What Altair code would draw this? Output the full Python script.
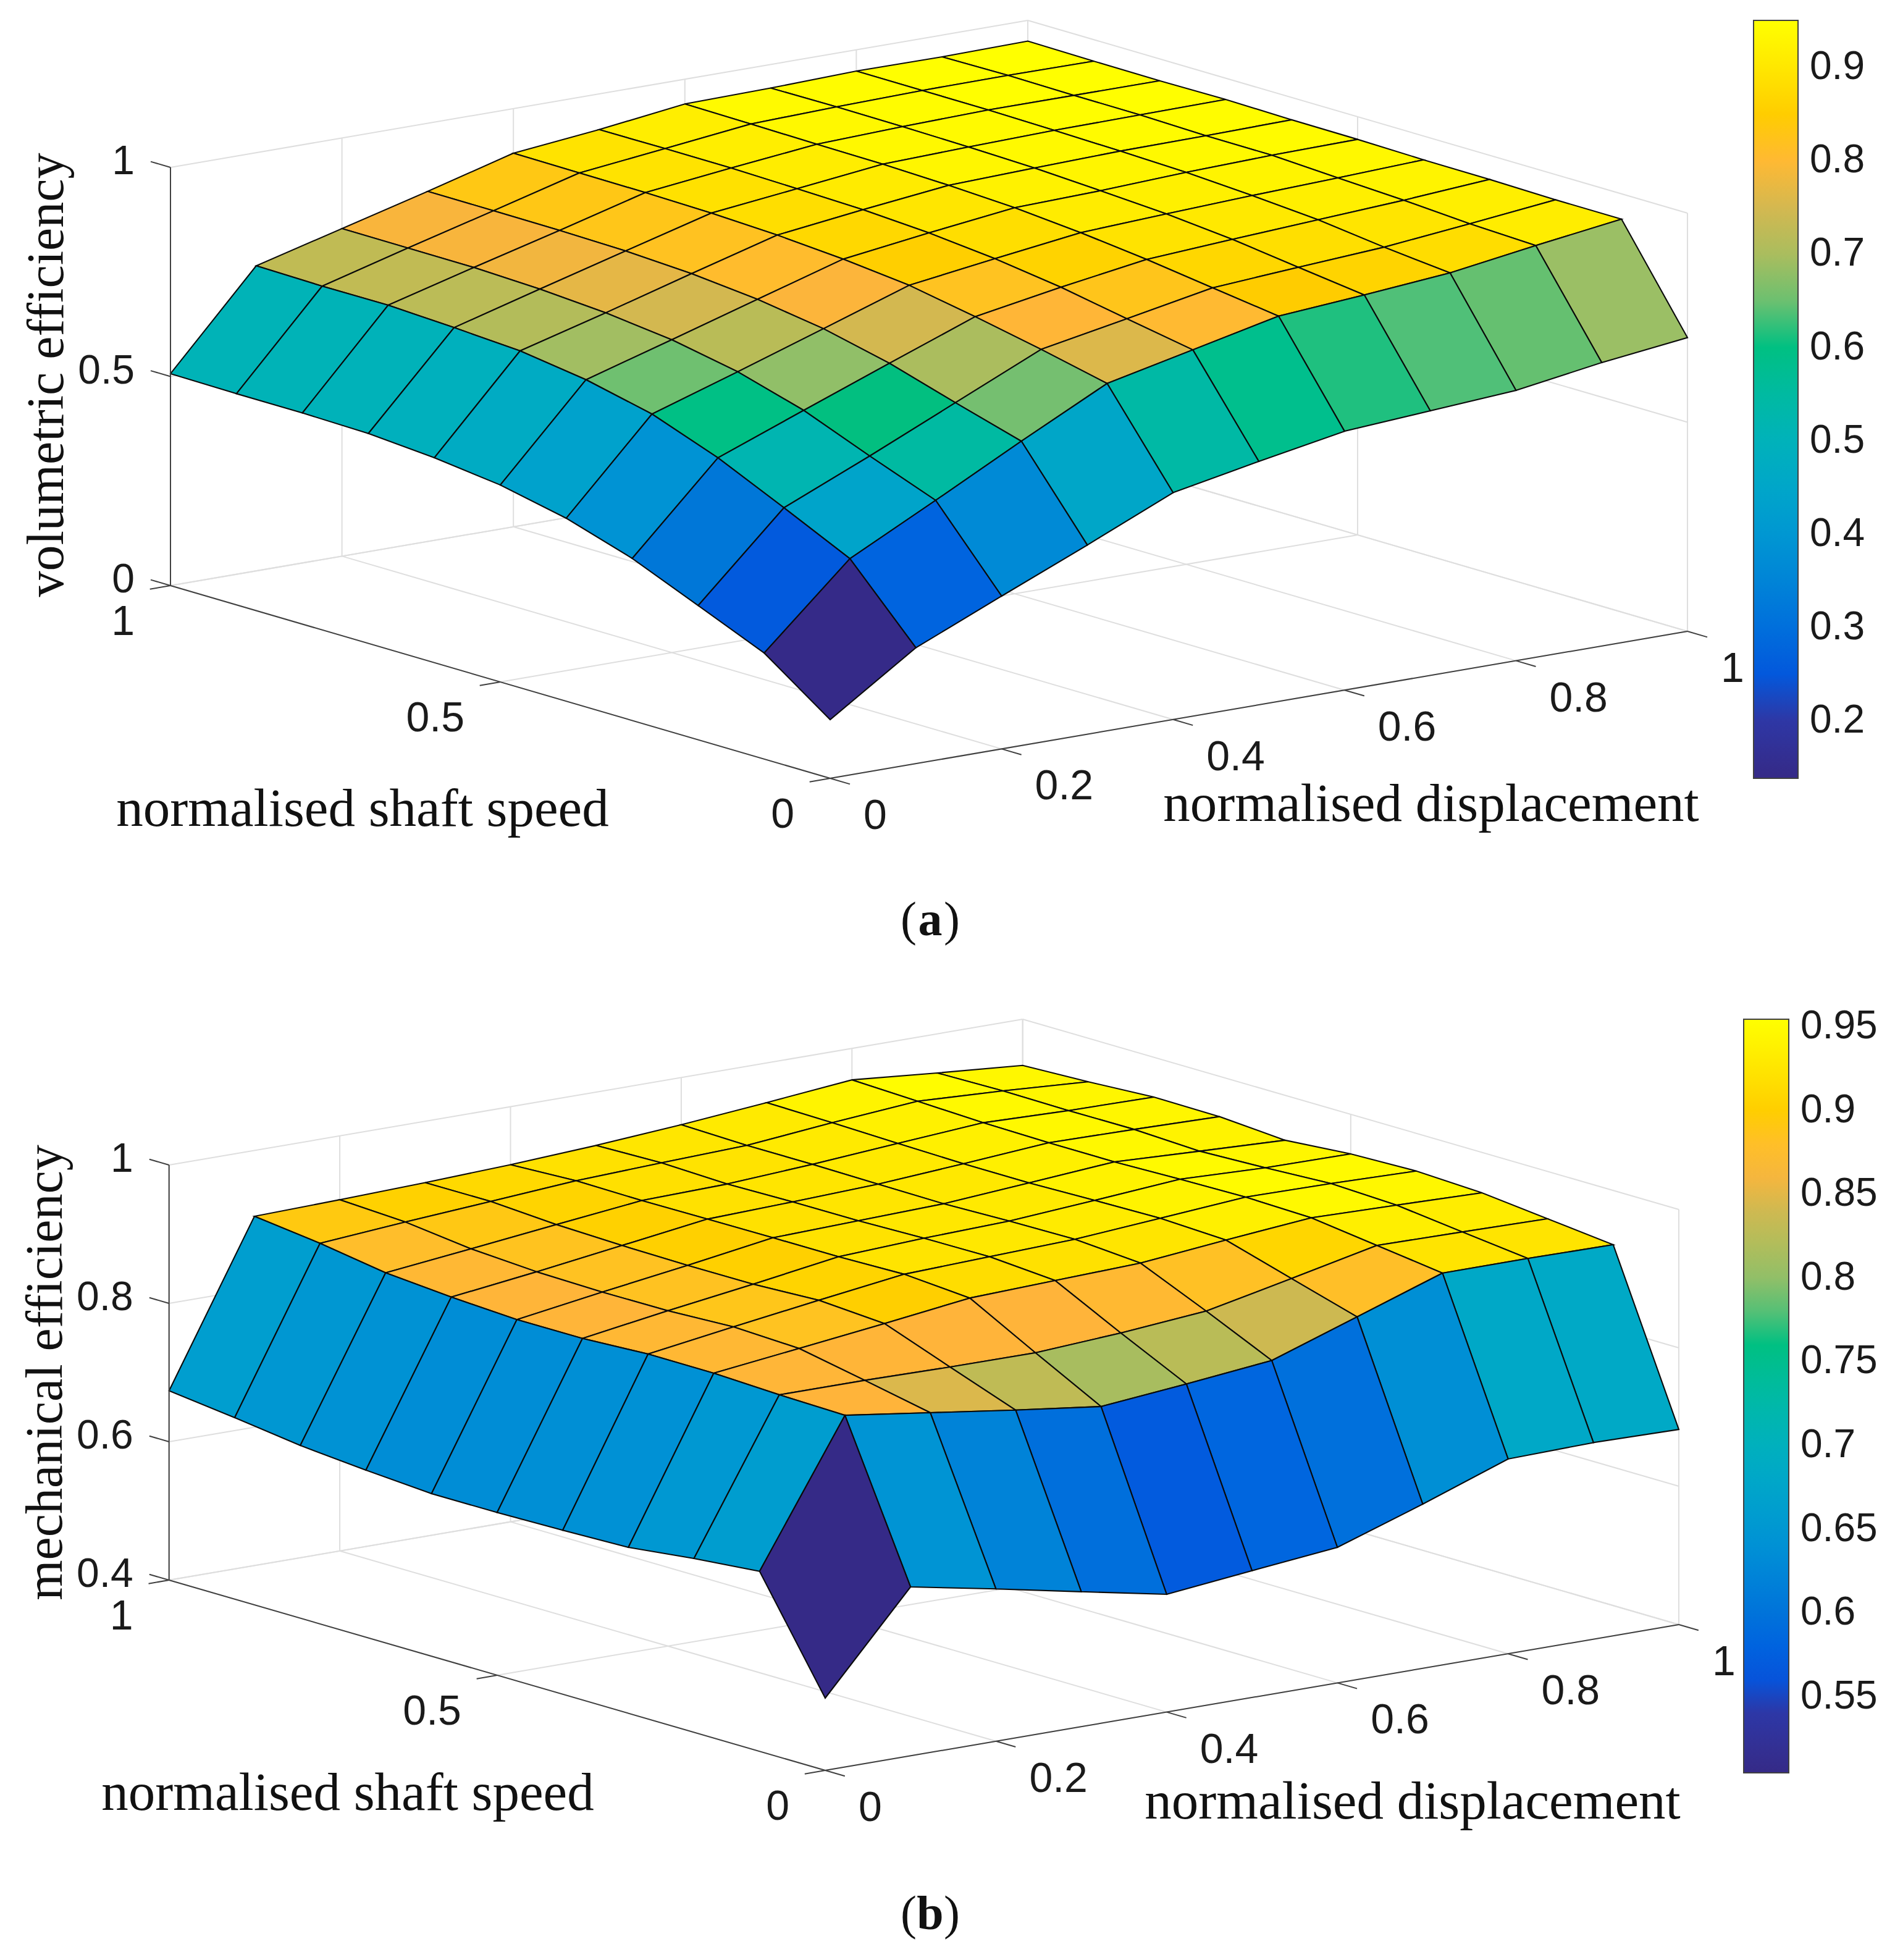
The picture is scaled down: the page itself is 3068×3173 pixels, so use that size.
import altair as alt
import pandas as pd

# surface heights; row = shaft speed index (0..1 in 0.1 steps), column = displacement index
Z_A = [
 [.1403,.277,.3654,.4524,.5425,.582,.619,.6328,.6463,.6777,.7022],
 [.2536,.444,.5483,.6546,.7575,.8027,.8482,.8636,.8812,.9116,.9394],
 [.321,.5197,.6082,.7005,.7929,.831,.8698,.8838,.8967,.9174,.9397],
 [.3876,.593,.6714,.7488,.825,.8603,.8916,.9045,.9161,.9277,.9423],
 [.4376,.6516,.7175,.7853,.854,.8825,.9095,.9193,.928,.935,.9431],
 [.471,.6876,.748,.8095,.8706,.8981,.923,.9286,.9374,.9431,.9459],
 [.49,.7105,.7663,.8248,.8819,.9075,.9306,.9369,.9421,.9437,.9466],
 [.502,.72,.777,.833,.8884,.9115,.935,.941,.9456,.9474,.9492],
 [.505,.7275,.7826,.836,.8913,.9149,.9366,.9436,.9483,.948,.9478],
 [.505,.727,.7829,.837,.8922,.9153,.939,.9448,.9488,.9498,.9486],
 [.5067,.7295,.7834,.8372,.8934,.9146,.9408,.9436,.9492,.948,.9505],
]
Z_B = [
 [.5045,.6441,.6201,.595,.5702,.5833,.5959,.6373,.6815,.6841,.6821],
 [.6602,.8647,.8473,.83,.8141,.8256,.8385,.8805,.9227,.9228,.9216],
 [.6513,.8668,.8666,.8648,.8643,.8718,.8824,.9084,.9352,.9336,.9316],
 [.6398,.8705,.8852,.9001,.9159,.9201,.9243,.9365,.9476,.9448,.9416],
 [.6371,.8707,.8889,.9063,.9228,.9271,.9312,.9405,.95,.9486,.9456],
 [.6352,.8657,.8847,.902,.9206,.9263,.93,.9389,.9484,.9438,.9429],
 [.635,.8654,.8841,.9017,.9205,.924,.9275,.9366,.9459,.9403,.9351],
 [.6414,.8705,.886,.9029,.92,.9238,.9284,.9368,.9461,.9443,.9417],
 [.6496,.8781,.8917,.9057,.9193,.9221,.9295,.9387,.9475,.944,.9425],
 [.6623,.8932,.9029,.9116,.9205,.9253,.9294,.9411,.9511,.945,.9371],
 [.6736,.9048,.9077,.9113,.9162,.9229,.9318,.9427,.9545,.9434,.9332],
]
S_TICKS = [0, 0.5, 1]
D_TICKS = [0, 0.2, 0.4, 0.6, 0.8, 1]
Z_TICKS_A = [0, 0.5, 1]
Z_TICKS_B = [0.4, 0.6, 0.8, 1]
CB_TICKS_A = [0.2, 0.3, 0.4, 0.5, 0.6, 0.7, 0.8, 0.9]
CB_TICKS_B = [0.55, 0.6, 0.65, 0.7, 0.75, 0.8, 0.85, 0.9, 0.95]

CMAP_T = [0, .094, .114, .16, .227, .325, .424, .49, .563, .578, .592, .609, .626, .64, .664, .688,
          .754, .8, .873, .94, 1]
CMAP_C = ['#352a87', '#2a3aac', '#0a50d8', '#0060e0', '#0078d8', '#0098d2', '#00aec0', '#00b8a8',
          '#00c083', '#00bf80', '#1fc07f', '#50c078', '#66c070', '#7bbf70', '#9bbf65', '#a8bd5f',
          '#d5b850', '#ffb43a', '#ffcc00', '#ffe800', '#ffff00']

PROJ = dict(type='identity', scale=1, translate=[-8, -8])
SANS = 'Liberation Sans'
SERIF = 'Liberation Serif'
LABEL_CB = 64
LABEL_Z = 66
LABEL_XY = 68
TITLE = 87
YTITLE = 84
CAPTION = 78


def line(a, b):
    return {'type': 'Feature', 'properties': {},
            'geometry': {'type': 'LineString', 'coordinates': [list(a), list(b)]}}


def panel(Z, zticks, zmin, zunit, O, ex, ey, cb_ticks, cb_box, cb_dom, titles, ylabel, cap):
    def P(s, d, z):
        return (O[0] + ex[0] * s + ey[0] * d, O[1] + ex[1] * s + ey[1] * d - (z - zmin) * zunit)
    ztop = 1
    grid = []
    for d in D_TICKS:
        grid.append(line(P(0, d, zmin), P(1, d, zmin)))
        grid.append(line(P(1, d, zmin), P(1, d, ztop)))
    for s in S_TICKS:
        grid.append(line(P(s, 0, zmin), P(s, 1, zmin)))
        grid.append(line(P(s, 1, zmin), P(s, 1, ztop)))
    for z in zticks:
        grid.append(line(P(1, 0, z), P(1, 1, z)))
        grid.append(line(P(0, 1, z), P(1, 1, z)))
    axes = [line(P(0, 0, zmin), P(1, 0, zmin)), line(P(0, 0, zmin), P(0, 1, zmin)),
            line(P(1, 0, zmin), P(1, 0, ztop))]
    for s in S_TICKS:
        axes.append(line(P(s, 0, zmin), P(s, -0.024, zmin)))
    for d in D_TICKS:
        axes.append(line(P(0, d, zmin), P(-0.03, d, zmin)))
    for z in zticks:
        axes.append(line(P(1, 0, z), P(1.03, 0, z)))

    faces = []
    for i in range(10):
        for j in range(10):
            ring = [P(i / 10, j / 10, Z[i][j]), P((i + 1) / 10, j / 10, Z[i + 1][j]),
                    P((i + 1) / 10, (j + 1) / 10, Z[i + 1][j + 1]), P(i / 10, (j + 1) / 10, Z[i][j + 1]),
                    P(i / 10, j / 10, Z[i][j])]
            faces.append({'type': 'Feature', 'properties': {'z': Z[i][j], 'k': i + j},
                          'geometry': {'type': 'Polygon', 'coordinates': [[list(p) for p in ring]]}})
    faces.sort(key=lambda f: -f['properties']['k'])

    lo, hi = cb_dom
    dom = [lo + t * (hi - lo) for t in CMAP_T]
    x0, x1, y0, y1 = cb_box
    color = alt.Color('properties.z:Q',
                      scale=alt.Scale(domain=dom, range=CMAP_C, clamp=True),
                      legend=alt.Legend(orient='none', legendX=x0 - 8, legendY=y0 - 8, direction='vertical',
                                        type='gradient', title=None, gradientLength=y1 - y0,
                                        gradientThickness=x1 - x0, values=cb_ticks, format='~g',
                                        labelFont=SANS, labelFontSize=LABEL_CB, labelColor='#1a1a1a',
                                        labelOffset=19, labelOverlap=False,
                                        gradientStrokeColor='#404040', gradientStrokeWidth=2))
    cb_lines = []
    for v in cb_ticks:
        y = y1 - (v - lo) / (hi - lo) * (y1 - y0)
        cb_lines.append(line((x1 - 13, y), (x1, y)))

    labels_r, labels_z, labels_l = [], [], []
    for s in S_TICKS:
        x, y = P(s, 0, zmin)
        labels_r.append({'x': x - 58, 'y': y + 60, 't': f'{s:g}'})
    for z in zticks:
        x, y = P(1, 0, z)
        labels_z.append({'x': x - 58, 'y': y - 9, 't': f'{z:g}'})
    for d in D_TICKS:
        x, y = P(0, d, zmin)
        labels_l.append({'x': x + 54, 'y': y + 62, 't': f'{d:g}'})

    def geo(features, **kw):
        return alt.Chart(alt.Data(values=features)).mark_geoshape(filled=False, **kw).project(**PROJ)

    def txt(rows, **kw):
        return alt.Chart(pd.DataFrame(rows)).mark_text(baseline='middle', **kw).encode(
            longitude='x:Q', latitude='y:Q', text='t:N').project(**PROJ)

    layers = [
        geo(grid, stroke='#dedede', strokeWidth=2),
        alt.Chart(alt.Data(values=faces)).mark_geoshape(stroke='#0a0a0a', strokeWidth=2.1).encode(color=color).project(**PROJ),
        geo(axes, stroke='#404040', strokeWidth=2),
        geo(cb_lines, stroke='#222222', strokeWidth=2),
        txt(labels_r, align='right', font=SANS, fontSize=LABEL_XY, color='#1a1a1a'),
        txt(labels_z, align='right', font=SANS, fontSize=LABEL_Z, color='#1a1a1a'),
        txt(labels_l, align='left', font=SANS, fontSize=LABEL_XY, color='#1a1a1a'),
        txt(titles, align='center', font=SERIF, fontSize=TITLE, color='#111111'),
        txt([ylabel], align='center', font=SERIF, fontSize=YTITLE, color='#111111', angle=270),
        txt([{'x': cap[0] - 22, 'y': cap[1], 't': '('}], align='right', font=SERIF, fontSize=CAPTION, color='#111111'),
        txt([{'x': cap[0], 'y': cap[1], 't': cap[2]}], align='center', font=SERIF, fontSize=CAPTION, fontWeight='bold', color='#111111'),
        txt([{'x': cap[0] + 22, 'y': cap[1], 't': ')'}], align='left', font=SERIF, fontSize=CAPTION, color='#111111'),
    ]
    return layers


a = panel(Z_A, Z_TICKS_A, 0, 677, (1344, 1260), (-1068, -312), (1388, -238),
          CB_TICKS_A, (2839, 2911, 33, 1260), (.1384, .9505),
          [{'x': 587, 'y': 1311, 't': 'normalised shaft speed'}, {'x': 2317, 'y': 1303, 't': 'normalised displacement'}],
          {'x': 77, 'y': 607, 't': 'volumetric efficiency'}, (1506, 1491, 'a'))
b = panel(Z_B, Z_TICKS_B, 0.4, 1120, (1336, 2866), (-1062.3, -308), (1382, -236),
          CB_TICKS_B, (2823, 2896, 1650, 2870), (.5045, .9545),
          [{'x': 563, 'y': 2904, 't': 'normalised shaft speed'}, {'x': 2287, 'y': 2918, 't': 'normalised displacement'}],
          {'x': 75, 'y': 2222, 't': 'mechanical efficiency'}, (1506, 3100, 'b'))

chart = alt.layer(*a, *b).resolve_scale(color='independent').properties(
    width=3052, height=3157, padding=0, autosize=alt.AutoSizeParams(type='none')
).configure_view(stroke=None).configure(background='white')

chart.save('out.html', embed_options={'renderer': 'svg', 'actions': False})
